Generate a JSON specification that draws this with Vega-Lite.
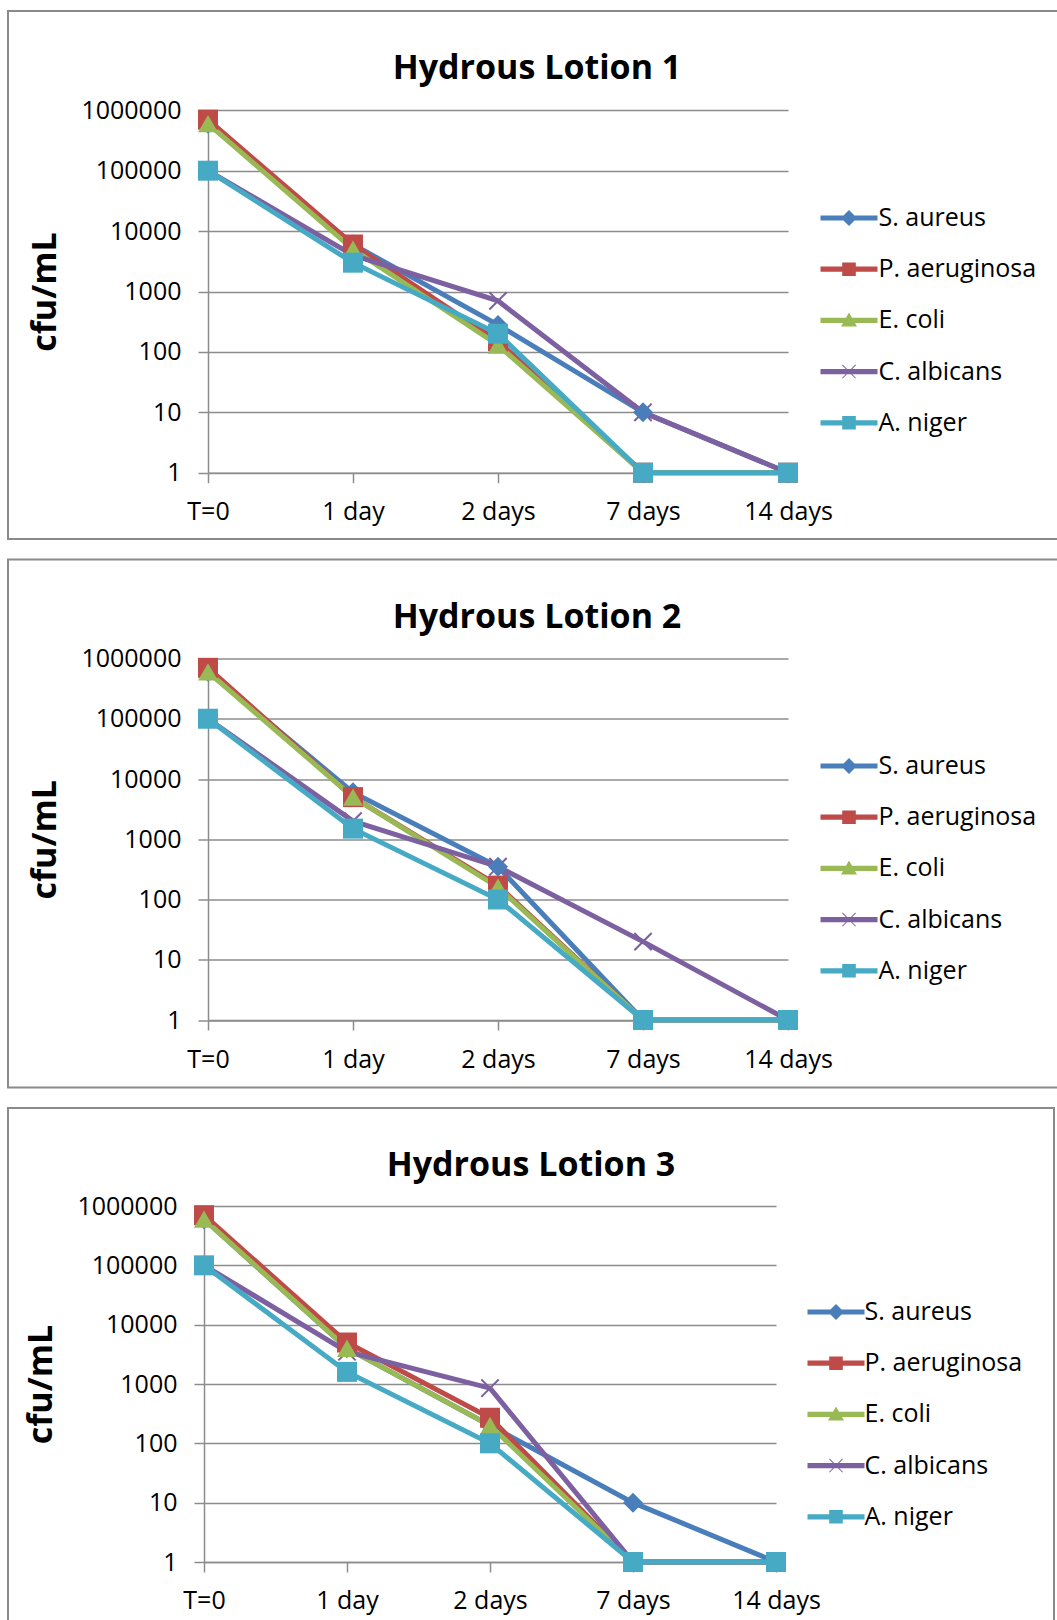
{
  "$schema": "https://vega.github.io/schema/vega-lite/v6.json",
  "padding": {"left": 7, "top": 10, "right": 0, "bottom": 0},
  "bounds": "flush",
  "spacing": 20.5,
  "background": "white",
  "config": {
    "font": "Open Sans",
    "view": {"stroke": "#8a8a8a", "strokeWidth": 2},
    "axis": {
      "labelFontSize": 25, "labelColor": "#000", "labelFont": "Open Sans",
      "tickSize": 10, "tickColor": "#8c8c8c", "tickWidth": 1.5,
      "domainColor": "#8c8c8c", "domainWidth": 1.5,
      "gridColor": "#8c8c8c", "gridWidth": 1.5
    }
  },
  "data": {"values": [
    {"panel": "1", "org": "S. aureus", "time": "T=0", "cfu": 600000},
    {"panel": "1", "org": "S. aureus", "time": "1 day", "cfu": 6000},
    {"panel": "1", "org": "S. aureus", "time": "2 days", "cfu": 280},
    {"panel": "1", "org": "S. aureus", "time": "7 days", "cfu": 10},
    {"panel": "1", "org": "S. aureus", "time": "14 days", "cfu": 1},
    {"panel": "1", "org": "P. aeruginosa", "time": "T=0", "cfu": 700000},
    {"panel": "1", "org": "P. aeruginosa", "time": "1 day", "cfu": 6000},
    {"panel": "1", "org": "P. aeruginosa", "time": "2 days", "cfu": 150},
    {"panel": "1", "org": "P. aeruginosa", "time": "7 days", "cfu": 1},
    {"panel": "1", "org": "P. aeruginosa", "time": "14 days", "cfu": 1},
    {"panel": "1", "org": "E. coli", "time": "T=0", "cfu": 600000},
    {"panel": "1", "org": "E. coli", "time": "1 day", "cfu": 5000},
    {"panel": "1", "org": "E. coli", "time": "2 days", "cfu": 130},
    {"panel": "1", "org": "E. coli", "time": "7 days", "cfu": 1},
    {"panel": "1", "org": "E. coli", "time": "14 days", "cfu": 1},
    {"panel": "1", "org": "C. albicans", "time": "T=0", "cfu": 100000},
    {"panel": "1", "org": "C. albicans", "time": "1 day", "cfu": 4000},
    {"panel": "1", "org": "C. albicans", "time": "2 days", "cfu": 700},
    {"panel": "1", "org": "C. albicans", "time": "7 days", "cfu": 10},
    {"panel": "1", "org": "C. albicans", "time": "14 days", "cfu": 1},
    {"panel": "1", "org": "A. niger", "time": "T=0", "cfu": 100000},
    {"panel": "1", "org": "A. niger", "time": "1 day", "cfu": 3000},
    {"panel": "1", "org": "A. niger", "time": "2 days", "cfu": 200},
    {"panel": "1", "org": "A. niger", "time": "7 days", "cfu": 1},
    {"panel": "1", "org": "A. niger", "time": "14 days", "cfu": 1},

    {"panel": "2", "org": "S. aureus", "time": "T=0", "cfu": 600000},
    {"panel": "2", "org": "S. aureus", "time": "1 day", "cfu": 6000},
    {"panel": "2", "org": "S. aureus", "time": "2 days", "cfu": 350},
    {"panel": "2", "org": "S. aureus", "time": "7 days", "cfu": 1},
    {"panel": "2", "org": "S. aureus", "time": "14 days", "cfu": 1},
    {"panel": "2", "org": "P. aeruginosa", "time": "T=0", "cfu": 700000},
    {"panel": "2", "org": "P. aeruginosa", "time": "1 day", "cfu": 5000},
    {"panel": "2", "org": "P. aeruginosa", "time": "2 days", "cfu": 170},
    {"panel": "2", "org": "P. aeruginosa", "time": "7 days", "cfu": 1},
    {"panel": "2", "org": "P. aeruginosa", "time": "14 days", "cfu": 1},
    {"panel": "2", "org": "E. coli", "time": "T=0", "cfu": 600000},
    {"panel": "2", "org": "E. coli", "time": "1 day", "cfu": 5000},
    {"panel": "2", "org": "E. coli", "time": "2 days", "cfu": 160},
    {"panel": "2", "org": "E. coli", "time": "7 days", "cfu": 1},
    {"panel": "2", "org": "E. coli", "time": "14 days", "cfu": 1},
    {"panel": "2", "org": "C. albicans", "time": "T=0", "cfu": 100000},
    {"panel": "2", "org": "C. albicans", "time": "1 day", "cfu": 2000},
    {"panel": "2", "org": "C. albicans", "time": "2 days", "cfu": 350},
    {"panel": "2", "org": "C. albicans", "time": "7 days", "cfu": 20},
    {"panel": "2", "org": "C. albicans", "time": "14 days", "cfu": 1},
    {"panel": "2", "org": "A. niger", "time": "T=0", "cfu": 100000},
    {"panel": "2", "org": "A. niger", "time": "1 day", "cfu": 1500},
    {"panel": "2", "org": "A. niger", "time": "2 days", "cfu": 100},
    {"panel": "2", "org": "A. niger", "time": "7 days", "cfu": 1},
    {"panel": "2", "org": "A. niger", "time": "14 days", "cfu": 1},

    {"panel": "3", "org": "S. aureus", "time": "T=0", "cfu": 600000},
    {"panel": "3", "org": "S. aureus", "time": "1 day", "cfu": 4000},
    {"panel": "3", "org": "S. aureus", "time": "2 days", "cfu": 200},
    {"panel": "3", "org": "S. aureus", "time": "7 days", "cfu": 10},
    {"panel": "3", "org": "S. aureus", "time": "14 days", "cfu": 1},
    {"panel": "3", "org": "P. aeruginosa", "time": "T=0", "cfu": 700000},
    {"panel": "3", "org": "P. aeruginosa", "time": "1 day", "cfu": 5000},
    {"panel": "3", "org": "P. aeruginosa", "time": "2 days", "cfu": 270},
    {"panel": "3", "org": "P. aeruginosa", "time": "7 days", "cfu": 1},
    {"panel": "3", "org": "P. aeruginosa", "time": "14 days", "cfu": 1},
    {"panel": "3", "org": "E. coli", "time": "T=0", "cfu": 600000},
    {"panel": "3", "org": "E. coli", "time": "1 day", "cfu": 4000},
    {"panel": "3", "org": "E. coli", "time": "2 days", "cfu": 200},
    {"panel": "3", "org": "E. coli", "time": "7 days", "cfu": 1},
    {"panel": "3", "org": "E. coli", "time": "14 days", "cfu": 1},
    {"panel": "3", "org": "C. albicans", "time": "T=0", "cfu": 100000},
    {"panel": "3", "org": "C. albicans", "time": "1 day", "cfu": 3500},
    {"panel": "3", "org": "C. albicans", "time": "2 days", "cfu": 850},
    {"panel": "3", "org": "C. albicans", "time": "7 days", "cfu": 1},
    {"panel": "3", "org": "C. albicans", "time": "14 days", "cfu": 1},
    {"panel": "3", "org": "A. niger", "time": "T=0", "cfu": 100000},
    {"panel": "3", "org": "A. niger", "time": "1 day", "cfu": 1600},
    {"panel": "3", "org": "A. niger", "time": "2 days", "cfu": 100},
    {"panel": "3", "org": "A. niger", "time": "7 days", "cfu": 1},
    {"panel": "3", "org": "A. niger", "time": "14 days", "cfu": 1}
  ]},
  "resolve": {
    "scale": {"x": "independent", "y": "independent", "color": "independent", "shape": "independent"},
    "legend": {"color": "independent"}
  },
  "vconcat": [
    {
      "width": 1058, "height": 528,
      "title": {"text": "Hydrous Lotion 1", "fontSize": 34, "fontWeight": "bold", "color": "#000", "anchor": "middle", "frame": "group", "offset": -102, "baseline": "alphabetic"},
      "transform": [{"filter": "datum.panel === '1'"}],
      "encoding": {
        "x": {"field": "time", "type": "ordinal", "sort": ["T=0", "1 day", "2 days", "7 days", "14 days"],
              "scale": {"type": "point", "range": [200, 780], "padding": 0},
              "axis": {"orient": "bottom", "offset": -66.3, "title": null, "labelAngle": 0, "labelPadding": 17, "grid": false}},
        "y": {"field": "cfu", "type": "quantitative",
              "scale": {"type": "log", "domain": [1, 1000000], "range": [461.7, 99.3], "nice": false},
              "axis": {"orient": "left", "offset": -200, "values": [1, 10, 100, 1000, 10000, 100000, 1000000], "format": "d", "labelPadding": 17, "grid": true, "title": "cfu/mL", "titleFontSize": 34, "titleFontWeight": "bold", "titleColor": "#000", "titlePadding": 18}},
        "color": {"field": "org", "type": "nominal",
                  "scale": {"domain": ["S. aureus", "P. aeruginosa", "E. coli", "C. albicans", "A. niger"], "range": ["#4A7EBB", "#BE4B48", "#98B954", "#7D60A0", "#46AAC5"]},
                  "legend": {"title": null, "orient": "none", "legendX": 828.5, "legendY": 194.5, "labelFontSize": 25, "labelColor": "#000", "symbolSize": 400, "rowPadding": 25.2, "labelOffset": 17, "padding": 0, "symbolOffset": 0,
                    "encode": {"symbols": {"update": {
                      "shape": {"signal": "datum.value === 'S. aureus' ? 'M-2.85,-0.26H2.85V0.26H-2.85Z M0,-0.8L0.8,0L0,0.8L-0.8,0Z' : datum.value === 'P. aeruginosa' ? 'M-2.85,-0.26H2.85V0.26H-2.85Z M-0.68,-0.68H0.68V0.68H-0.68Z' : datum.value === 'E. coli' ? 'M-2.85,-0.26H2.85V0.26H-2.85Z M0,-0.8L0.8,0.62H-0.8Z' : datum.value === 'C. albicans' ? 'M-2.85,-0.26H2.85V0.26H-2.85Z M-0.7,-0.63L-0.63,-0.7L0.7,0.63L0.63,0.7Z M0.63,-0.7L0.7,-0.63L-0.63,0.7L-0.7,0.63Z' : 'M-2.85,-0.26H2.85V0.26H-2.85Z M-0.68,-0.68H0.68V0.68H-0.68Z'"},
                      "fill": {"signal": "datum.value === 'S. aureus' ? '#4A7EBB' : datum.value === 'P. aeruginosa' ? '#BE4B48' : datum.value === 'E. coli' ? '#98B954' : datum.value === 'C. albicans' ? '#7D60A0' : '#46AAC5'"},
                      "stroke": {"value": "transparent"}, "strokeWidth": {"value": 0}, "opacity": {"value": 1}, "size": {"value": 400}
                    }}}}}
      },
      "layer": [
        {"mark": {"type": "line", "strokeWidth": 5}},
        {"transform": [{"filter": "datum.org === 'C. albicans'"}],
         "mark": {"type": "point", "filled": false, "shape": "M-1,-1L1,1M1,-1L-1,1", "size": 300, "strokeWidth": 2, "opacity": 1}},
        {"transform": [{"filter": "datum.org !== 'C. albicans'"}],
         "mark": {"type": "point", "filled": true, "size": 400, "opacity": 1},
         "encoding": {"shape": {"field": "org", "type": "nominal", "scale": {"domain": ["S. aureus", "P. aeruginosa", "E. coli", "A. niger"], "range": ["diamond", "square", "triangle-up", "square"]}, "legend": null}}}
      ]
    },
    {
      "width": 1058, "height": 528,
      "title": {"text": "Hydrous Lotion 2", "fontSize": 34, "fontWeight": "bold", "color": "#000", "anchor": "middle", "frame": "group", "offset": -102, "baseline": "alphabetic"},
      "transform": [{"filter": "datum.panel === '2'"}],
      "encoding": {
        "x": {"field": "time", "type": "ordinal", "sort": ["T=0", "1 day", "2 days", "7 days", "14 days"],
              "scale": {"type": "point", "range": [200, 780], "padding": 0},
              "axis": {"orient": "bottom", "offset": -67.5, "title": null, "labelAngle": 0, "labelPadding": 17, "grid": false}},
        "y": {"field": "cfu", "type": "quantitative",
              "scale": {"type": "log", "domain": [1, 1000000], "range": [460.5, 99], "nice": false},
              "axis": {"orient": "left", "offset": -200, "values": [1, 10, 100, 1000, 10000, 100000, 1000000], "format": "d", "labelPadding": 17, "grid": true, "title": "cfu/mL", "titleFontSize": 34, "titleFontWeight": "bold", "titleColor": "#000", "titlePadding": 18}},
        "color": {"field": "org", "type": "nominal",
                  "scale": {"domain": ["S. aureus", "P. aeruginosa", "E. coli", "C. albicans", "A. niger"], "range": ["#4A7EBB", "#BE4B48", "#98B954", "#7D60A0", "#46AAC5"]},
                  "legend": {"title": null, "orient": "none", "legendX": 828.5, "legendY": 194, "labelFontSize": 25, "labelColor": "#000", "symbolSize": 400, "rowPadding": 25.2, "labelOffset": 17, "padding": 0, "symbolOffset": 0,
                    "encode": {"symbols": {"update": {
                      "shape": {"signal": "datum.value === 'S. aureus' ? 'M-2.85,-0.26H2.85V0.26H-2.85Z M0,-0.8L0.8,0L0,0.8L-0.8,0Z' : datum.value === 'P. aeruginosa' ? 'M-2.85,-0.26H2.85V0.26H-2.85Z M-0.68,-0.68H0.68V0.68H-0.68Z' : datum.value === 'E. coli' ? 'M-2.85,-0.26H2.85V0.26H-2.85Z M0,-0.8L0.8,0.62H-0.8Z' : datum.value === 'C. albicans' ? 'M-2.85,-0.26H2.85V0.26H-2.85Z M-0.7,-0.63L-0.63,-0.7L0.7,0.63L0.63,0.7Z M0.63,-0.7L0.7,-0.63L-0.63,0.7L-0.7,0.63Z' : 'M-2.85,-0.26H2.85V0.26H-2.85Z M-0.68,-0.68H0.68V0.68H-0.68Z'"},
                      "fill": {"signal": "datum.value === 'S. aureus' ? '#4A7EBB' : datum.value === 'P. aeruginosa' ? '#BE4B48' : datum.value === 'E. coli' ? '#98B954' : datum.value === 'C. albicans' ? '#7D60A0' : '#46AAC5'"},
                      "stroke": {"value": "transparent"}, "strokeWidth": {"value": 0}, "opacity": {"value": 1}, "size": {"value": 400}
                    }}}}}
      },
      "layer": [
        {"mark": {"type": "line", "strokeWidth": 5}},
        {"transform": [{"filter": "datum.org === 'C. albicans'"}],
         "mark": {"type": "point", "filled": false, "shape": "M-1,-1L1,1M1,-1L-1,1", "size": 300, "strokeWidth": 2, "opacity": 1}},
        {"transform": [{"filter": "datum.org !== 'C. albicans'"}],
         "mark": {"type": "point", "filled": true, "size": 400, "opacity": 1},
         "encoding": {"shape": {"field": "org", "type": "nominal", "scale": {"domain": ["S. aureus", "P. aeruginosa", "E. coli", "A. niger"], "range": ["diamond", "square", "triangle-up", "square"]}, "legend": null}}}
      ]
    },
    {
      "width": 1046, "height": 528,
      "title": {"text": "Hydrous Lotion 3", "fontSize": 34, "fontWeight": "bold", "color": "#000", "anchor": "middle", "frame": "group", "offset": -102, "baseline": "alphabetic"},
      "transform": [{"filter": "datum.panel === '3'"}],
      "encoding": {
        "x": {"field": "time", "type": "ordinal", "sort": ["T=0", "1 day", "2 days", "7 days", "14 days"],
              "scale": {"type": "point", "range": [196, 768], "padding": 0},
              "axis": {"orient": "bottom", "offset": -74, "title": null, "labelAngle": 0, "labelPadding": 16, "grid": false}},
        "y": {"field": "cfu", "type": "quantitative",
              "scale": {"type": "log", "domain": [1, 1000000], "range": [454, 98], "nice": false},
              "axis": {"orient": "left", "offset": -196, "values": [1, 10, 100, 1000, 10000, 100000, 1000000], "format": "d", "labelPadding": 17, "grid": true, "title": "cfu/mL", "titleFontSize": 34, "titleFontWeight": "bold", "titleColor": "#000", "titlePadding": 18}},
        "color": {"field": "org", "type": "nominal",
                  "scale": {"domain": ["S. aureus", "P. aeruginosa", "E. coli", "C. albicans", "A. niger"], "range": ["#4A7EBB", "#BE4B48", "#98B954", "#7D60A0", "#46AAC5"]},
                  "legend": {"title": null, "orient": "none", "legendX": 815.5, "legendY": 191.5, "labelFontSize": 25, "labelColor": "#000", "symbolSize": 400, "rowPadding": 25.2, "labelOffset": 16, "padding": 0, "symbolOffset": 0,
                    "encode": {"symbols": {"update": {
                      "shape": {"signal": "datum.value === 'S. aureus' ? 'M-2.85,-0.26H2.85V0.26H-2.85Z M0,-0.8L0.8,0L0,0.8L-0.8,0Z' : datum.value === 'P. aeruginosa' ? 'M-2.85,-0.26H2.85V0.26H-2.85Z M-0.68,-0.68H0.68V0.68H-0.68Z' : datum.value === 'E. coli' ? 'M-2.85,-0.26H2.85V0.26H-2.85Z M0,-0.8L0.8,0.62H-0.8Z' : datum.value === 'C. albicans' ? 'M-2.85,-0.26H2.85V0.26H-2.85Z M-0.7,-0.63L-0.63,-0.7L0.7,0.63L0.63,0.7Z M0.63,-0.7L0.7,-0.63L-0.63,0.7L-0.7,0.63Z' : 'M-2.85,-0.26H2.85V0.26H-2.85Z M-0.68,-0.68H0.68V0.68H-0.68Z'"},
                      "fill": {"signal": "datum.value === 'S. aureus' ? '#4A7EBB' : datum.value === 'P. aeruginosa' ? '#BE4B48' : datum.value === 'E. coli' ? '#98B954' : datum.value === 'C. albicans' ? '#7D60A0' : '#46AAC5'"},
                      "stroke": {"value": "transparent"}, "strokeWidth": {"value": 0}, "opacity": {"value": 1}, "size": {"value": 400}
                    }}}}}
      },
      "layer": [
        {"mark": {"type": "line", "strokeWidth": 5}},
        {"transform": [{"filter": "datum.org === 'C. albicans'"}],
         "mark": {"type": "point", "filled": false, "shape": "M-1,-1L1,1M1,-1L-1,1", "size": 300, "strokeWidth": 2, "opacity": 1}},
        {"transform": [{"filter": "datum.org !== 'C. albicans'"}],
         "mark": {"type": "point", "filled": true, "size": 400, "opacity": 1},
         "encoding": {"shape": {"field": "org", "type": "nominal", "scale": {"domain": ["S. aureus", "P. aeruginosa", "E. coli", "A. niger"], "range": ["diamond", "square", "triangle-up", "square"]}, "legend": null}}}
      ]
    }
  ]
}
